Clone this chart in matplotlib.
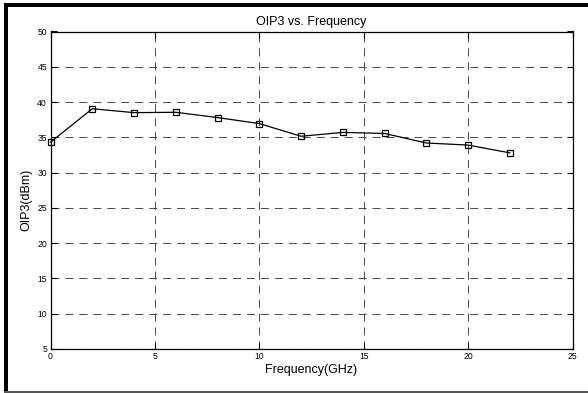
import numpy as np
import matplotlib
matplotlib.use("Agg")
import matplotlib.pyplot as plt
from matplotlib.patches import Rectangle

plt.rcParams.update({"font.family": ["Liberation Sans", "DejaVu Sans"]})

freq_ghz = [0, 2, 4, 6, 8, 10, 12, 14, 16, 18, 20, 22]
oip3_dbm = [34.3, 39.05, 38.5, 38.55, 37.8, 36.95, 35.15, 35.7, 35.55, 34.2, 33.9, 32.8]
xticks = [0, 5, 10, 15, 20, 25]
yticks = [5, 10, 15, 20, 25, 30, 35, 40, 45, 50]

W, H = 588, 393
fig = plt.figure(figsize=(W / 100, H / 100), dpi=100)


def px(x0, y0, x1, y1):
    # pixel box (top-left origin) -> figure fraction rect
    return [x0 / W, 1 - y1 / H, (x1 - x0) / W, (y1 - y0) / H]


ax = fig.add_axes(px(50.5, 31.5, 572.5, 349))
ax.plot(freq_ghz, oip3_dbm, "-s", color="black", lw=0.9, ms=5,
        mfc="none", mec="black", mew=0.9, clip_on=False, zorder=3)
ax.set_xlim(0, 25); ax.set_ylim(5, 50)
ax.set_xticks(xticks); ax.set_yticks(yticks)
ax.grid(True, color="#505050", lw=0.75, ls=(0, (7.7, 5.7)))
ax.tick_params(direction="in", length=4, width=0.8, top=True, right=True,
               labelsize=6.2)
ax.tick_params(axis="y", pad=2.5)
ax.tick_params(axis="x", pad=2)
for s in ax.spines.values():
    s.set_linewidth(0.9)
ax.set_title("OIP3 vs. Frequency", fontsize=9, pad=5)
ax.set_xlabel("Frequency(GHz)", fontsize=9)
ax.set_ylabel("OIP3(dBm)", fontsize=9)
ax.xaxis.set_label_coords(0.5, -0.047)
ax.yaxis.set_label_coords(-0.0354, 0.469)

# figure frame: thick black top/left, thin grey bottom
for box, col in ((px(4, 3, 588, 6.5), "black"), (px(4, 3, 8, 392), "black"),
                 (px(4, 391, 588, 392.5), "#555555")):
    fig.add_artist(Rectangle(box[:2], box[2], box[3], transform=fig.transFigure,
                             color=col, lw=0))

fig.savefig("out.png", dpi=100)
